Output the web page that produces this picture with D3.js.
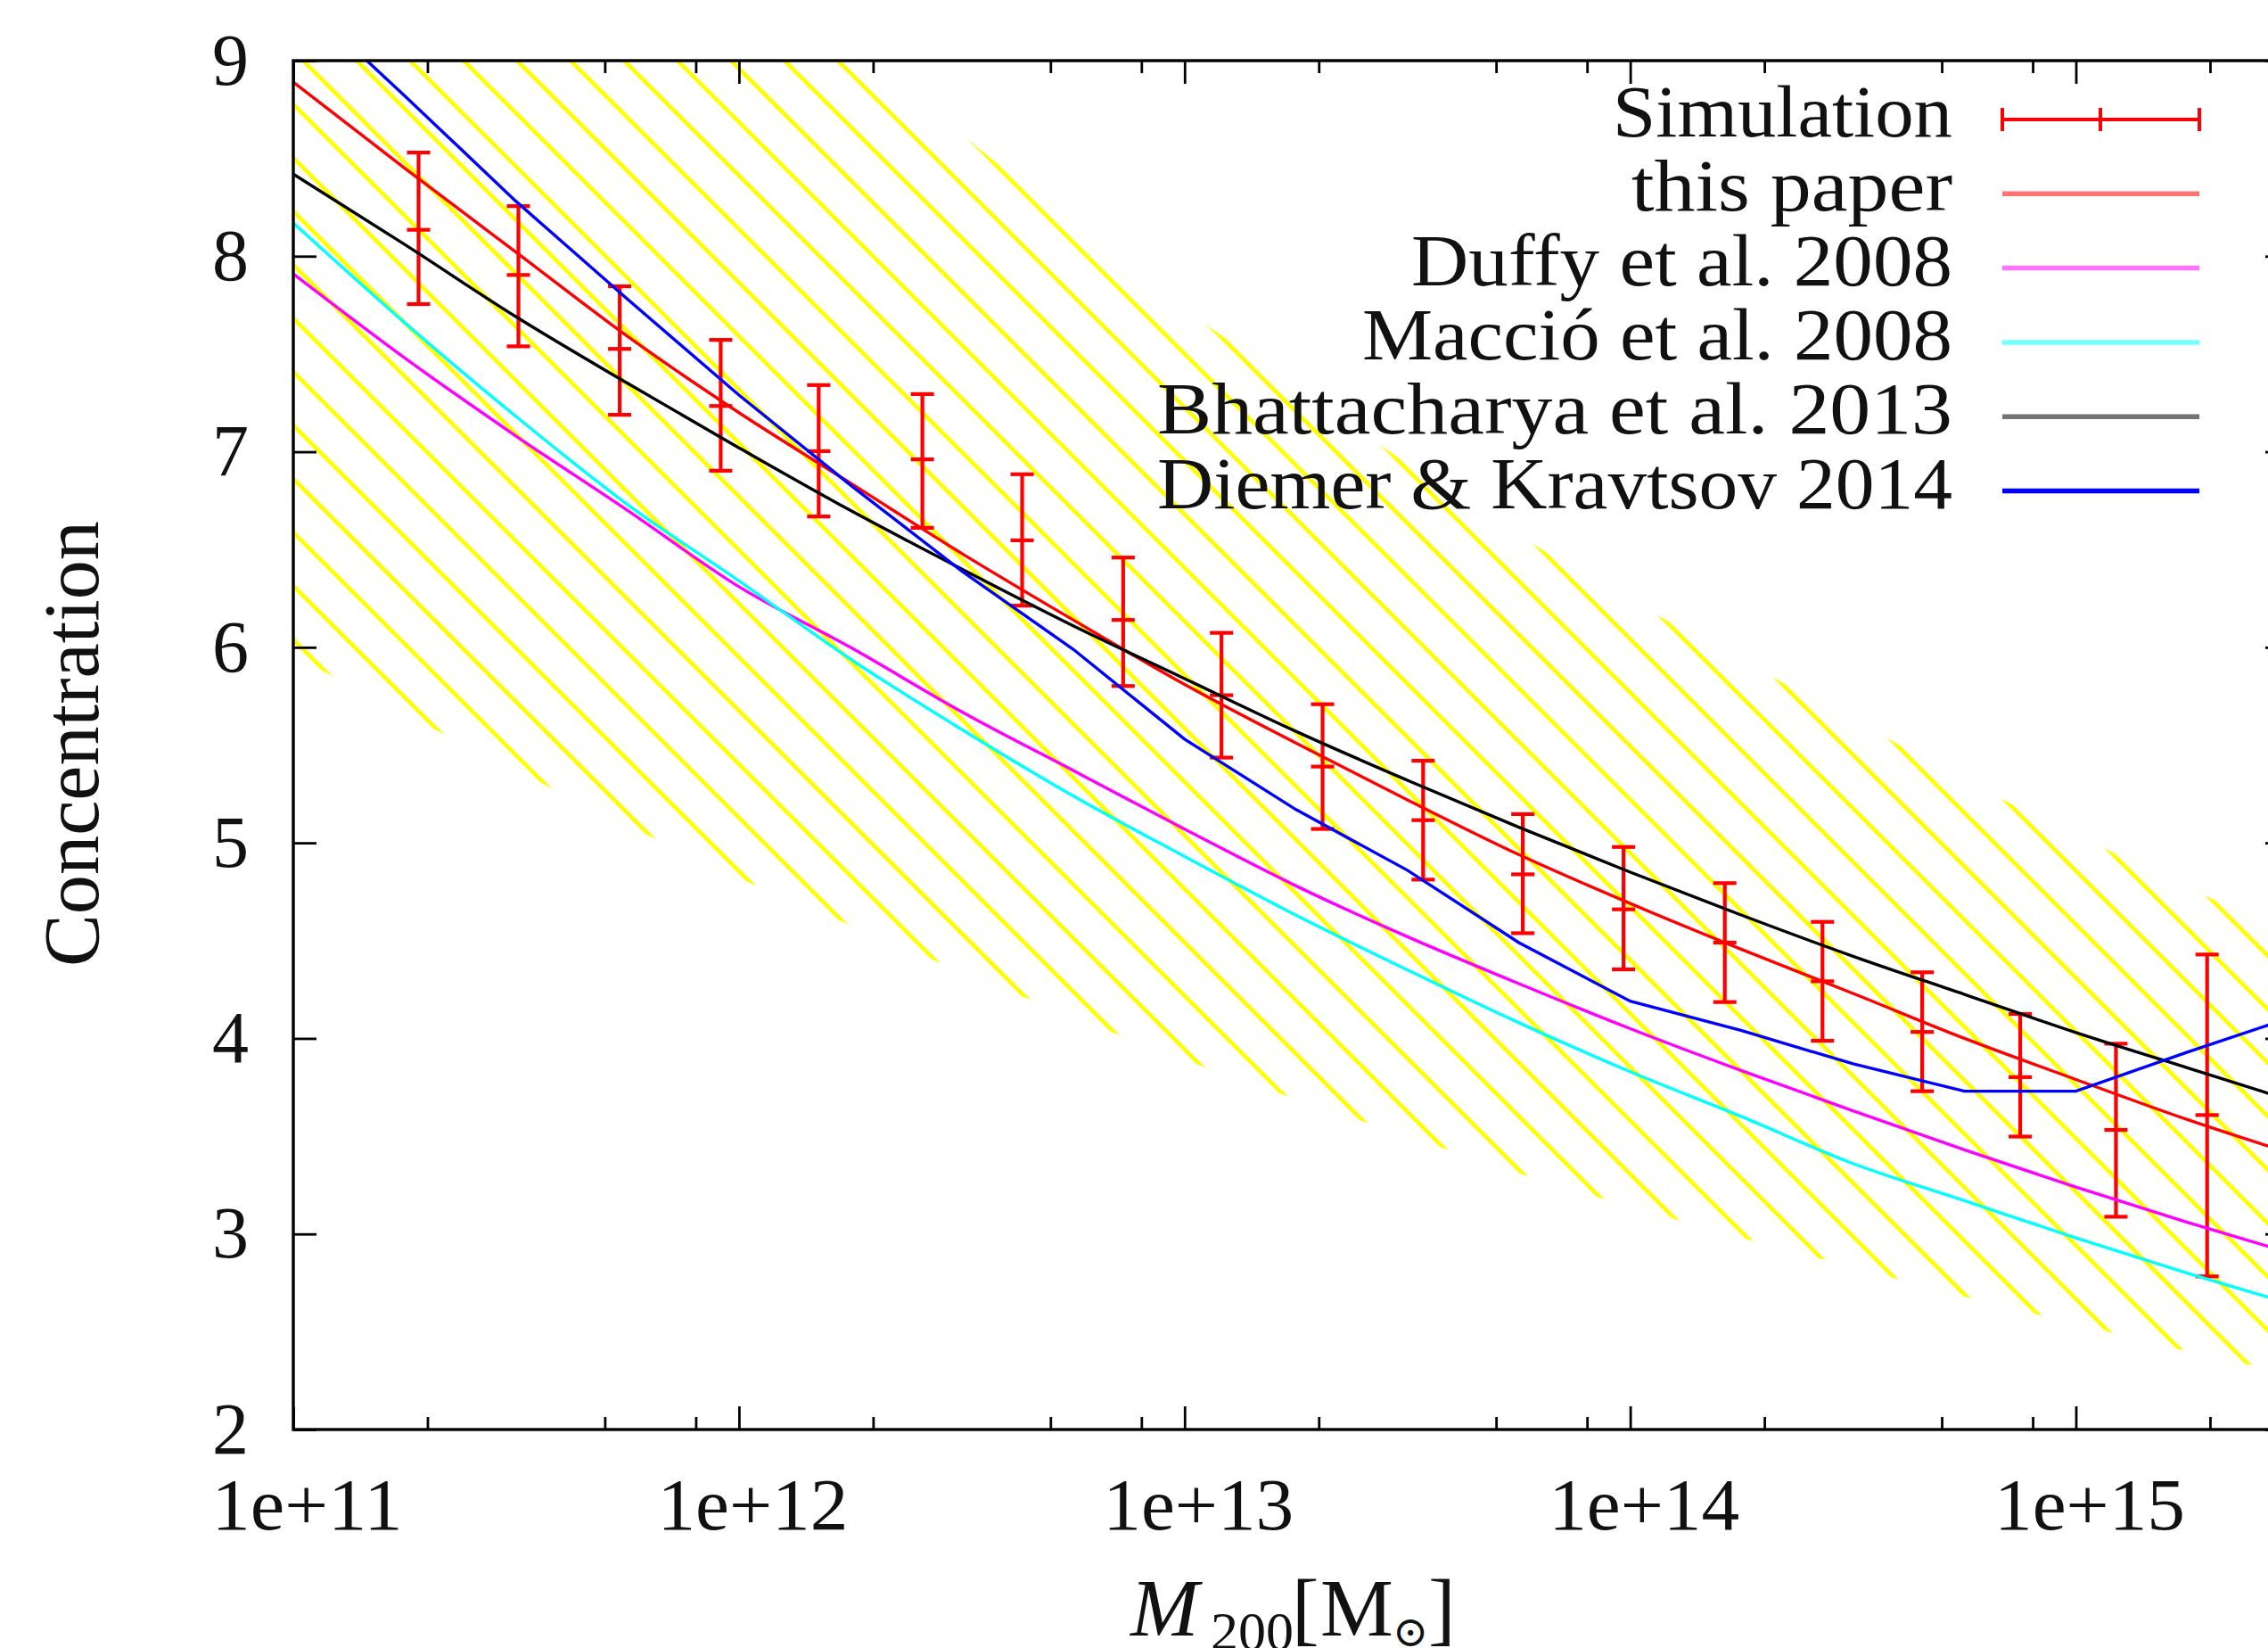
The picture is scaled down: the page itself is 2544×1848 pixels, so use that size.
<!DOCTYPE html>
<html>
<head>
<meta charset="utf-8">
<script src="https://cdn.jsdelivr.net/npm/d3@7"></script>
<style>
body { margin: 0; background: #fff; }
text { font-family: "Liberation Serif", "DejaVu Serif", serif; fill: #111; }
</style>
</head>
<body>
<script>
// halo mass grid (M_sun) shared by the model curves
const gridMass = [1e11, 1.778e11, 3.162e11, 5.623e11, 1e12, 1.778e12, 3.162e12, 5.623e12, 1e13, 1.778e13,
    3.162e13, 5.623e13, 1e14, 1.778e14, 3.162e14, 5.623e14, 1e15, 1.778e15, 3.162e15];

// concentration-mass relations
const thisPaper    = [8.89, 8.45, 8.02, 7.59, 7.20, 6.84, 6.48, 6.14, 5.81, 5.51, 5.22, 4.94, 4.69, 4.455, 4.23, 4.00, 3.79, 3.585, 3.40];
const duffy        = [7.91, 7.48, 7.08, 6.70, 6.31, 6.00, 5.67, 5.37, 5.07, 4.78, 4.52, 4.28, 4.05, 3.835, 3.63, 3.43, 3.24, 3.06, 2.89];
const maccio       = [8.17, 7.66, 7.18, 6.73, 6.34, 5.94, 5.58, 5.24, 4.93, 4.63, 4.35, 4.08, 3.83, 3.60, 3.36, 3.17, 2.98, 2.80, 2.63];
const bhattacharya = [8.42, 8.06, 7.69, 7.35, 7.02, 6.70, 6.40, 6.11, 5.84, 5.57, 5.32, 5.08, 4.85, 4.63, 4.42, 4.225, 4.03, 3.85, 3.67];
const diemer       = [9.35, 8.82, 8.28, 7.78, 7.29, 6.83, 6.39, 5.99, 5.53, 5.17, 4.86, 4.49, 4.19, 4.04, 3.87, 3.73, 3.73, 3.93, 4.12];

// hatched scatter band (upper / lower edge)
const bandHigh = [11.82, 11.24, 10.67, 10.09, 9.58, 9.10, 8.62, 8.17, 7.73, 7.33, 6.94, 6.57, 6.24, 5.93, 5.63, 5.32, 5.04, 4.77, 4.52];
const bandLow  = [5.96, 5.66, 5.37, 5.09, 4.82, 4.58, 4.34, 4.11, 3.89, 3.69, 3.50, 3.31, 3.14, 2.98, 2.83, 2.68, 2.54, 2.40, 2.28];

// simulation points with error bars
const simMass = [1.91e11, 3.20e11, 5.40e11, 9.10e11, 1.51e12, 2.58e12, 4.32e12, 7.28e12, 1.21e13, 2.04e13,
    3.43e13, 5.74e13, 9.66e13, 1.63e14, 2.70e14, 4.52e14, 7.50e14, 1.23e15, 1.97e15];
const simC    = [8.135, 7.904, 7.526, 7.234, 7.003, 6.961, 6.547, 6.140, 5.755, 5.390, 5.116, 4.839, 4.660, 4.490, 4.292, 4.033, 3.802, 3.532, 3.608];
const simLow  = [7.755, 7.539, 7.189, 6.903, 6.669, 6.611, 6.213, 5.802, 5.436, 5.071, 4.812, 4.538, 4.353, 4.186, 3.988, 3.730, 3.498, 3.088, 2.783];
const simHigh = [8.530, 8.256, 7.846, 7.572, 7.341, 7.295, 6.885, 6.459, 6.074, 5.709, 5.420, 5.147, 4.979, 4.794, 4.596, 4.338, 4.125, 3.973, 4.429];

// ticks
const xMajor = [1e11, 1e12, 1e13, 1e14, 1e15];
const xLabels = ['1e+11', '1e+12', '1e+13', '1e+14', '1e+15'];
const xMinor = [2e11, 5e11, 8e11, 2e12, 5e12, 8e12, 2e13, 5e13, 8e13, 2e14, 5e14, 8e14, 2e15];
const yTicks = [2, 3, 4, 5, 6, 7, 8, 9];

// legend
const legendLabels = ['Simulation', 'this paper', 'Duffy et al. 2008', 'Macció et al. 2008', 'Bhattacharya et al. 2013', 'Diemer & Kravtsov 2014'];

const W = 2544, H = 1848;
const plotL = 329, plotR = 2567, plotT = 68, plotB = 1603;
const fontStack = '"Liberation Serif", "DejaVu Serif", serif';

const svg = d3.select('body').append('svg').attr('width', W).attr('height', H);
svg.append('rect').attr('width', W).attr('height', H).attr('fill', 'white');

const x = d3.scaleLog().domain([1e11, 3e15]).range([plotL, plotR]);
const y = d3.scaleLinear().domain([2, 9]).range([plotB, plotT]);

const defs = svg.append('defs');
defs.append('clipPath').attr('id', 'plotClip')
    .append('rect').attr('x', plotL).attr('y', plotT).attr('width', plotR - plotL).attr('height', plotB - plotT);

// diagonal yellow hatch like gnuplot's pattern fill
const pat = defs.append('pattern').attr('id', 'hatch')
    .attr('patternUnits', 'userSpaceOnUse')
    .attr('x', 32).attr('y', 0).attr('width', 60).attr('height', 60);
pat.append('path')
    .attr('d', 'M-5,-5L65,65M-5,55L5,65M55,-5L65,5')
    .attr('stroke', '#ffff00').attr('stroke-width', 4.6).attr('fill', 'none');

const plot = svg.append('g').attr('clip-path', 'url(#plotClip)');

// band
const band = gridMass.map((m, i) => ({ m: m, lo: bandLow[i], hi: bandHigh[i] }));
plot.append('path').datum(band)
    .attr('d', d3.area().x(d => x(d.m)).y0(d => y(d.lo)).y1(d => y(d.hi)).curve(d3.curveMonotoneX))
    .attr('fill', 'url(#hatch)');

// error bars
const sim = simMass.map((m, i) => ({ m: m, c: simC[i], lo: simLow[i], hi: simHigh[i] }));
const bars = plot.append('g').attr('stroke', '#ff0000').attr('stroke-width', 4.2);
sim.forEach(function(d) {
    const cx = x(d.m);
    bars.append('line').attr('x1', cx).attr('x2', cx).attr('y1', y(d.lo)).attr('y2', y(d.hi));
    [d.lo, d.hi, d.c].forEach(function(v) {
        bars.append('line').attr('x1', cx - 13).attr('x2', cx + 13).attr('y1', y(v)).attr('y2', y(v));
    });
});

// model curves
const series = [
    { vals: thisPaper, color: '#ff0000', curve: d3.curveMonotoneX },
    { vals: duffy, color: '#ff00ff', curve: d3.curveMonotoneX },
    { vals: maccio, color: '#00ffff', curve: d3.curveMonotoneX },
    { vals: bhattacharya, color: '#000000', curve: d3.curveMonotoneX },
    { vals: diemer, color: '#0000ff', curve: d3.curveLinear }
];
series.forEach(function(s) {
    const line = d3.line().x((d, i) => x(gridMass[i])).y(d => y(d)).curve(s.curve);
    plot.append('path').datum(s.vals)
        .attr('d', line)
        .attr('fill', 'none')
        .attr('stroke', s.color)
        .attr('stroke-width', 3.4);
});

// axes
function styleAxis(g, size) {
    g.select('.domain').remove();
    g.attr('font-family', fontStack).attr('font-size', size);
    g.selectAll('line').attr('stroke', '#000').attr('stroke-width', 2.8);
    g.selectAll('text').attr('fill', '#111');
}

const bottomAxis = svg.append('g').attr('transform', `translate(0,${plotB})`)
    .call(d3.axisBottom(x).tickValues(xMajor).tickFormat((d, i) => xLabels[i])
        .tickSizeInner(-26).tickSizeOuter(0).tickPadding(54));
styleAxis(bottomAxis, 82);
bottomAxis.selectAll('text').attr('dx', 15).attr('textLength', 214).attr('lengthAdjust', 'spacingAndGlyphs');

styleAxis(svg.append('g').attr('transform', `translate(0,${plotB})`)
    .call(d3.axisBottom(x).tickValues(xMinor).tickFormat('').tickSizeInner(-14).tickSizeOuter(0)), 10);

styleAxis(svg.append('g').attr('transform', `translate(0,${plotT})`)
    .call(d3.axisTop(x).tickValues(xMajor).tickFormat('').tickSizeInner(-26).tickSizeOuter(0)), 10);
styleAxis(svg.append('g').attr('transform', `translate(0,${plotT})`)
    .call(d3.axisTop(x).tickValues(xMinor).tickFormat('').tickSizeInner(-14).tickSizeOuter(0)), 10);

const leftAxis = svg.append('g').attr('transform', `translate(${plotL},0)`)
    .call(d3.axisLeft(y).tickValues(yTicks).tickFormat(d3.format('d'))
        .tickSizeInner(-26).tickSizeOuter(0).tickPadding(50));
styleAxis(leftAxis, 82);

styleAxis(svg.append('g').attr('transform', `translate(${plotR},0)`)
    .call(d3.axisRight(y).tickValues(yTicks).tickFormat('').tickSizeInner(-26).tickSizeOuter(0)), 10);

// frame
svg.append('rect')
    .attr('x', plotL).attr('y', plotT).attr('width', plotR - plotL).attr('height', plotB - plotT)
    .attr('fill', 'none').attr('stroke', '#000').attr('stroke-width', 3.4);

// legend
const legendColors = ['#ff0000', '#ff0000', '#ff00ff', '#00ffff', '#000000', '#0000ff'];
const legendOpacity = [1, 0.55, 0.55, 0.55, 0.55, 1];
const legendWidths = [381, 360, 607, 662, 892, 892];
const legend = svg.append('g');
legendLabels.forEach(function(label, i) {
    const ry = 134 + i * 83.3;
    legend.append('text')
        .attr('x', 2190).attr('y', ry + 19)
        .attr('text-anchor', 'end')
        .attr('font-size', 82)
        .attr('textLength', legendWidths[i]).attr('lengthAdjust', 'spacingAndGlyphs')
        .text(label);
    if (i === 0) {
        const g = legend.append('g').attr('stroke', '#ff0000').attr('stroke-width', 4);
        g.append('line').attr('x1', 2246).attr('x2', 2467).attr('y1', ry).attr('y2', ry);
        [2246, 2356, 2467].forEach(function(tx) {
            g.append('line').attr('x1', tx).attr('x2', tx).attr('y1', ry - 13).attr('y2', ry + 13);
        });
    } else {
        legend.append('line')
            .attr('x1', 2246).attr('x2', 2467).attr('y1', ry).attr('y2', ry)
            .attr('stroke', legendColors[i]).attr('stroke-opacity', legendOpacity[i])
            .attr('stroke-width', 5.5);
    }
});

// axis titles
svg.append('text')
    .attr('transform', 'translate(110,834) rotate(-90)')
    .attr('text-anchor', 'middle')
    .attr('font-size', 88)
    .attr('textLength', 500).attr('lengthAdjust', 'spacingAndGlyphs')
    .text('Concentration');

const xTitle = svg.append('text').attr('y', 1834).attr('font-size', 92);
xTitle.append('tspan').attr('x', 1268).attr('font-style', 'italic').text('M');
xTitle.append('tspan').attr('x', 1358).attr('dy', 16).attr('font-size', 62).text('200');
xTitle.append('tspan').attr('x', 1449).attr('dy', -16).text('[');
xTitle.append('tspan').attr('x', 1481).text('M');
xTitle.append('tspan').attr('x', 1562).attr('dy', 12).attr('font-size', 48).text('\u2299');
xTitle.append('tspan').attr('x', 1602).attr('dy', -12).text(']');
</script>
</body>
</html>
